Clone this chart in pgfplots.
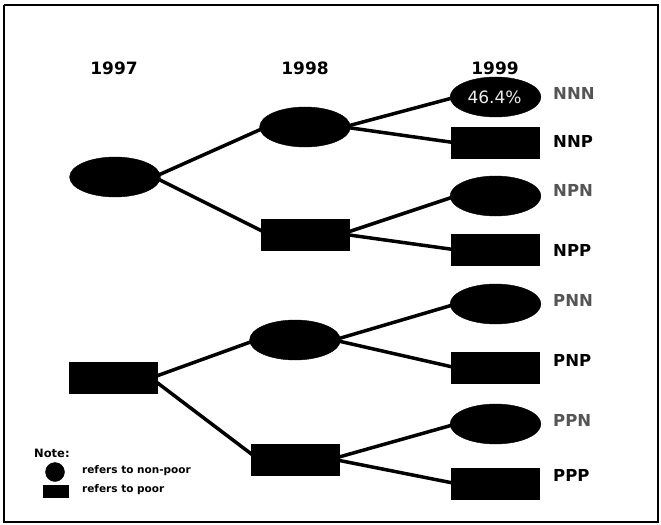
\documentclass[border=0pt]{standalone}
\usepackage{pgfplots}
\pgfplotsset{compat=1.18}
\usepackage{pgfplotstable}
\usepackage{fontspec}
\setmainfont{DejaVu Sans}
\definecolor{lblgray}{HTML}{555555}

\pgfplotstableread{
x y
115 177
305 127
295 340
495.5 97
495.5 196
495.5 304
495.5 424
}\ellipsedata

\pgfplotstableread{
x y
113 378
305 234.5
295 459.5
495 143
495 250
495 368
495 484
}\rectdata

\begin{document}
\begin{tikzpicture}
\begin{axis}[
  scale only axis, width=661bp, height=525bp,
  xmin=0, xmax=661, ymin=0, ymax=525, y dir=reverse,
  hide axis, clip=false,
]
\path (axis cs:0,0) rectangle (axis cs:661,525);
% frame
\addplot[black, line width=1.5bp, mark=none] coordinates {(4,5) (658,5) (658,522) (4,522) (4,5)};
% edges
\addplot[black, line width=3.5bp, mark=none] coordinates {(154,177) (266,127)};
\addplot[black, line width=3.5bp, mark=none] coordinates {(154,177) (268,234)};
\addplot[black, line width=3.5bp, mark=none] coordinates {(151,378) (256,340)};
\addplot[black, line width=3.5bp, mark=none] coordinates {(151,378) (258,459)};
\addplot[black, line width=3.5bp, mark=none] coordinates {(344,127) (456,97)};
\addplot[black, line width=3.5bp, mark=none] coordinates {(344,127) (457,143)};
\addplot[black, line width=3.5bp, mark=none] coordinates {(342,234) (456,196)};
\addplot[black, line width=3.5bp, mark=none] coordinates {(342,234) (457,250)};
\addplot[black, line width=3.5bp, mark=none] coordinates {(334,340) (456,304)};
\addplot[black, line width=3.5bp, mark=none] coordinates {(334,340) (457,368)};
\addplot[black, line width=3.5bp, mark=none] coordinates {(332,459) (456,424)};
\addplot[black, line width=3.5bp, mark=none] coordinates {(332,459) (458,484)};
% nodes
\addplot[only marks, mark=*, mark size=20bp, mark options={xscale=2.27, fill=black, draw=black}] table[x=x,y=y] {\ellipsedata};
\addplot[only marks, mark=square*, mark size=15.5bp, mark options={xscale=2.82, fill=black, draw=black, rounded corners=0.8bp}] table[x=x,y=y] {\rectdata};
% legend symbols
\addplot[only marks, mark=*, mark size=9.5bp, mark options={fill=black, draw=black}] coordinates {(55,472)};
\addplot[only marks, mark=square*, mark size=6bp, mark options={xscale=2.1, fill=black, draw=black}] coordinates {(55.5,491)};
% texts
\coordinate (nnn) at (axis cs:494.5,97);
\node[font=\fontsize{17bp}{18bp}\selectfont\bfseries] at (axis cs:114,68) {1997};
\node[font=\fontsize{17bp}{18bp}\selectfont\bfseries] at (axis cs:305,68) {1998};
\node[font=\fontsize{17bp}{18bp}\selectfont\bfseries] at (axis cs:495,68) {1999};
\node[font=\fontsize{16.5bp}{18bp}\selectfont\bfseries, text=lblgray, anchor=west, inner sep=0pt] at (axis cs:553,93) {NNN};
\node[font=\fontsize{16.5bp}{18bp}\selectfont\bfseries, anchor=west, inner sep=0pt] at (axis cs:553,141) {NNP};
\node[font=\fontsize{16.5bp}{18bp}\selectfont\bfseries, text=lblgray, anchor=west, inner sep=0pt] at (axis cs:553,190) {NPN};
\node[font=\fontsize{16.5bp}{18bp}\selectfont\bfseries, anchor=west, inner sep=0pt] at (axis cs:553,250) {NPP};
\node[font=\fontsize{16.5bp}{18bp}\selectfont\bfseries, text=lblgray, anchor=west, inner sep=0pt] at (axis cs:553,300) {PNN};
\node[font=\fontsize{16.5bp}{18bp}\selectfont\bfseries, anchor=west, inner sep=0pt] at (axis cs:553,360) {PNP};
\node[font=\fontsize{16.5bp}{18bp}\selectfont\bfseries, text=lblgray, anchor=west, inner sep=0pt] at (axis cs:553,420) {PPN};
\node[font=\fontsize{16.5bp}{18bp}\selectfont\bfseries, anchor=west, inner sep=0pt] at (axis cs:553,475) {PPP};
\node[font=\fontsize{11.5bp}{13bp}\selectfont\bfseries, anchor=west, inner sep=0pt] at (axis cs:34,453) {Note:};
\node[font=\fontsize{10.5bp}{12bp}\selectfont\bfseries, anchor=west, inner sep=0pt] at (axis cs:82,471) {refers to non-poor};
\node[font=\fontsize{10.5bp}{12bp}\selectfont\bfseries, anchor=west, inner sep=0pt] at (axis cs:82,490) {refers to poor};
\end{axis}
\node[font=\fontsize{17bp}{18bp}\selectfont, text=gray!15] at (nnn) {46.4\%};
\end{tikzpicture}
\end{document}
